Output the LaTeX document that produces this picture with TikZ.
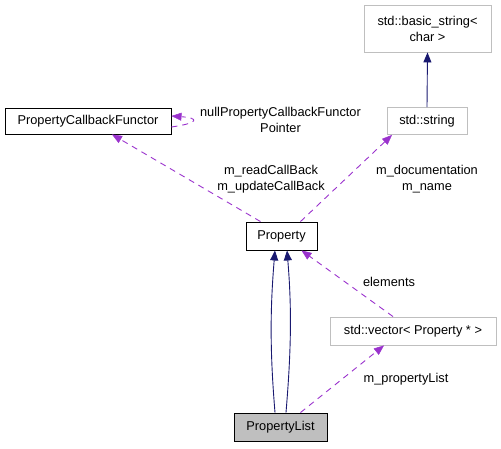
\documentclass[tikz,border=0pt]{standalone}
\usepackage{fontspec}
\setmainfont{Liberation Sans}
\usetikzlibrary{arrows.meta}
\definecolor{dep}{HTML}{9A32CD}
\definecolor{inh}{HTML}{191970}
\definecolor{gbord}{HTML}{BFBFBF}
\tikzset{
  x=1pt,y=1pt,
  box/.style={draw=black,line width=0.9pt,fill=white,inner sep=0pt,font=\fontsize{12.8}{16}\selectfont,align=center},
  graybox/.style={box,draw=gbord},
  lbl/.style={font=\fontsize{12.8}{16}\selectfont,align=center,inner sep=0pt},
  depline/.style={draw=dep,line width=0.9pt,dash pattern=on 6pt off 5pt,-{Triangle[length=10pt,width=8pt,fill=dep,line width=0.5pt]}},
  inhline/.style={draw=inh,line width=0.9pt,-{Triangle[length=10pt,width=8pt,fill=inh]}}
}
\begin{document}
\begin{tikzpicture}
\useasboundingbox (0,0) rectangle (501,448);
\node[box,minimum width=166,minimum height=26] (pcf) at (88,327) {PropertyCallbackFunctor};
\node[graybox,minimum width=127,minimum height=47] (bstr) at (427.5,419.5) {std::basic\_string<\\char >};
\node[graybox,minimum width=80,minimum height=27] (str) at (427,327) {std::string};
\node[box,minimum width=71,minimum height=28] (prop) at (281.5,212) {Property};
\node[graybox,minimum width=166,minimum height=28] (vec) at (413,117) {std::vector< Property * >};
\node[box,fill=gbord,minimum width=93,minimum height=28] (plist) at (280.5,21) {PropertyList};

\node[lbl] (l1) at (280.5,328) {nullPropertyCallbackFunctor\\Pointer};
\node[lbl] (l2) at (271,269) {m\_readCallBack\\m\_updateCallBack};
\node[lbl] (l3) at (427,269) {m\_documentation\\m\_name};
\node[lbl] (l4) at (389,166) {elements};
\node[lbl] (l5) at (406,69) {m\_propertyList};

\draw[inhline] (str.north) -- (bstr.south);
\draw[inhline] ([xshift=-5.5]plist.north) .. controls +(-5,60) and +(-5,-60) .. ([xshift=-6.5]prop.south);
\draw[inhline] ([xshift=5.5]plist.north) .. controls +(5,60) and +(5,-60) .. ([xshift=5.5]prop.south);

\draw[depline] ([yshift=-6]pcf.east) .. controls +(28,4) and +(28,-2) .. ([yshift=5]pcf.east);
\draw[depline] ([xshift=-21]prop.north) -- ([xshift=24]pcf.south);
\draw[depline] ([xshift=19]prop.north) -- ([xshift=-35]str.south);
\draw[depline] ([xshift=-20]vec.north) -- ([xshift=20]prop.south);
\draw[depline] ([xshift=20]plist.north) -- ([xshift=-29]vec.south);
\end{tikzpicture}
\end{document}
